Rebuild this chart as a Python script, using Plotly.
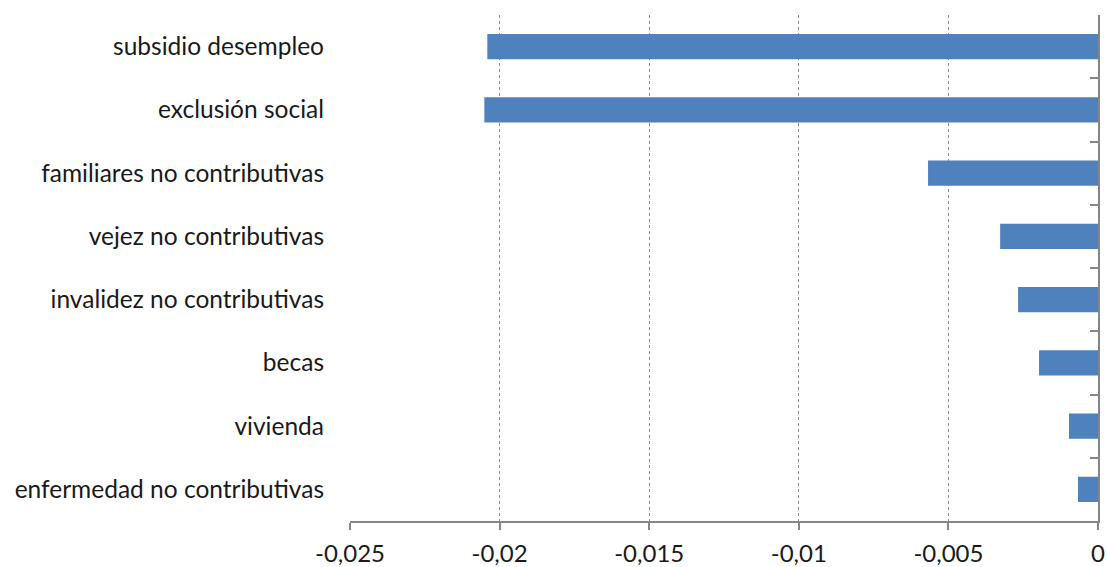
import plotly.graph_objects as go

# Program categories (top to bottom) and their values
categories = [
    "subsidio desempleo",
    "exclusión social",
    "familiares no contributivas",
    "vejez no contributivas",
    "invalidez no contributivas",
    "becas",
    "vivienda",
    "enfermedad no contributivas",
]
values = [-0.02041, -0.02051, -0.00568, -0.00327, -0.00267, -0.00197, -0.00097, -0.00067]

# X axis ticks and their comma-decimal labels
x_ticks = [-0.025, -0.02, -0.015, -0.01, -0.005, 0]
x_tick_labels = ["-0,025", "-0,02", "-0,015", "-0,01", "-0,005", "0"]

FONT = "Lato"
AXIS_GREY = "#868686"
TEXT = "#1a1a1a"

fig = go.Figure()
fig.add_trace(go.Bar(
    x=values,
    y=categories,
    orientation="h",
    marker=dict(color="#4F81BD", line=dict(width=0)),
    showlegend=False,
    hoverinfo="x+y",
))
# Invisible companion trace so the right-hand category axis (at x = 0) is drawn
fig.add_trace(go.Scatter(
    x=values,
    y=categories,
    yaxis="y2",
    mode="markers",
    marker=dict(opacity=0),
    showlegend=False,
    hoverinfo="skip",
))

fig.update_layout(
    width=1107,
    height=567,
    margin=dict(l=350, r=9, t=15, b=46, autoexpand=False),
    paper_bgcolor="white",
    plot_bgcolor="white",
    bargap=0.6,
    font=dict(family=FONT, size=24, color=TEXT),
    xaxis=dict(
        range=[-0.025, 0],
        tickvals=x_ticks,
        ticktext=x_tick_labels,
        showgrid=True,
        gridcolor="#8c8c8c",
        griddash="dot",
        gridwidth=1,
        zeroline=False,
        showline=True,
        linecolor=AXIS_GREY,
        linewidth=1.5,
        ticks="outside",
        ticklen=7,
        tickwidth=1.5,
        tickcolor=AXIS_GREY,
        ticklabelstandoff=3,
        tickfont=dict(family=FONT, size=24, color=TEXT),
        automargin=False,
        fixedrange=True,
    ),
    yaxis=dict(
        categoryorder="array",
        categoryarray=categories,
        autorange="reversed",
        showgrid=False,
        zeroline=False,
        showline=False,
        ticks="",
        ticklabelstandoff=25,
        tickfont=dict(family=FONT, size=24.5, color=TEXT),
        automargin=False,
        fixedrange=True,
    ),
    yaxis2=dict(
        overlaying="y",
        matches="y",
        side="right",
        anchor="x",
        showgrid=False,
        zeroline=False,
        showline=True,
        linecolor=AXIS_GREY,
        linewidth=1.5,
        ticks="inside",
        tickson="boundaries",
        ticklen=8,
        tickwidth=1.5,
        tickcolor=AXIS_GREY,
        showticklabels=False,
        automargin=False,
        fixedrange=True,
    ),
)

fig.write_html("out.html")
